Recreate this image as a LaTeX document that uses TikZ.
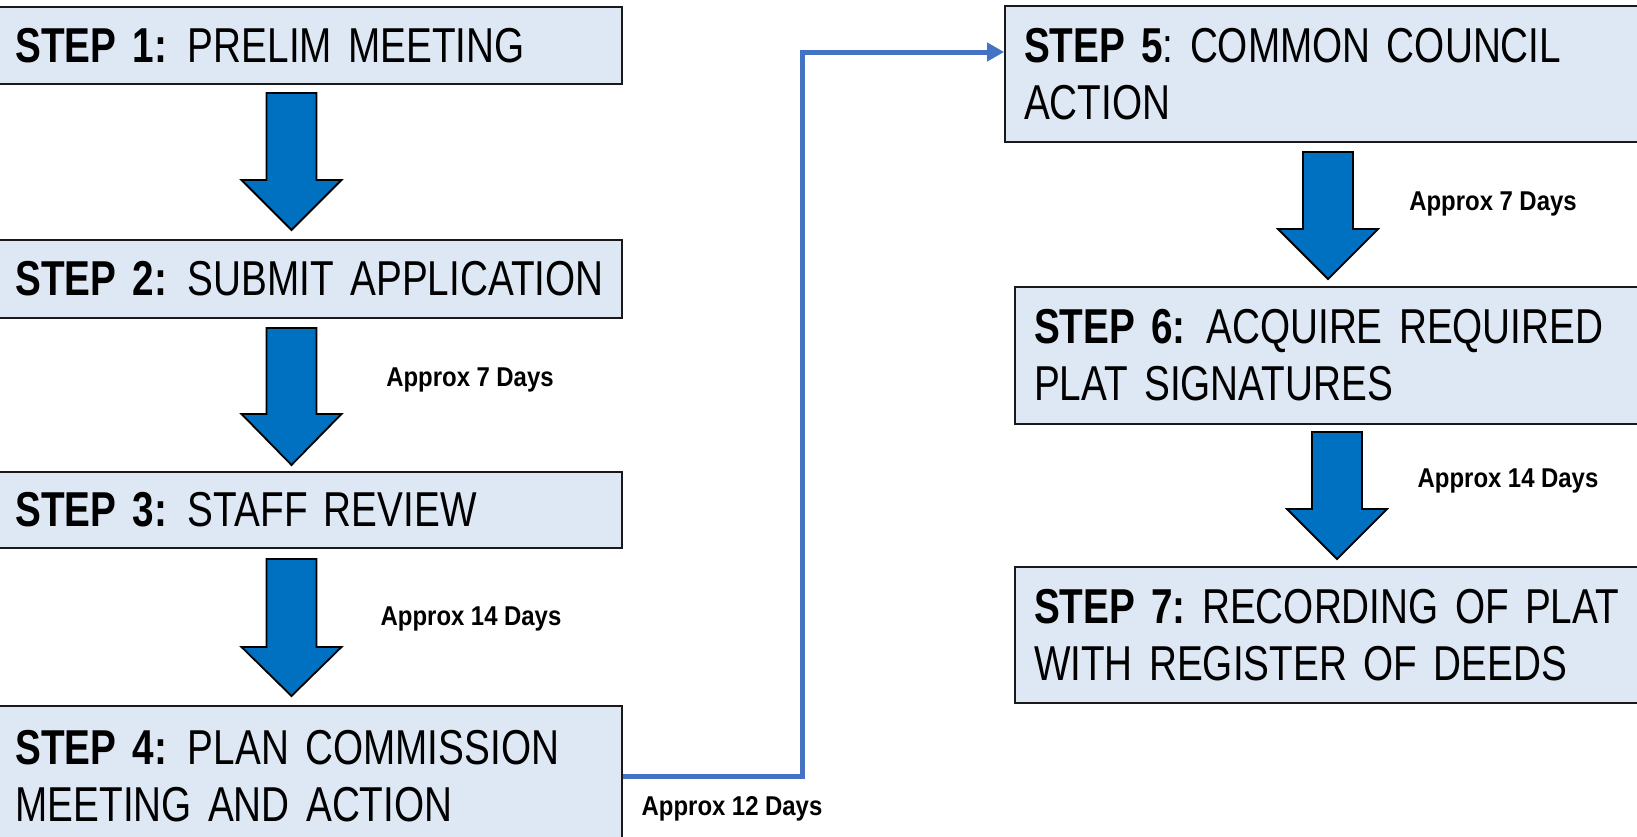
\documentclass[tikz,border=0pt]{standalone}
\usepackage{fontspec}
\setmainfont{Liberation Sans}[FakeStretch=0.79]
\newfontfamily\lblfont{Liberation Sans}[FakeStretch=0.88]
\usetikzlibrary{arrows.meta}
\definecolor{boxfill}{HTML}{DEE8F4}
\definecolor{arrfill}{HTML}{0070C0}
\definecolor{connblue}{HTML}{4472C4}
\newcommand\gapp{\hspace{0.42em}}
\newcommand\boxfont{\fontsize{24.5}{28.5}\selectfont\frenchspacing\spaceskip=0.2em\relax}
\newcommand\daysfont{\lblfont\bfseries\fontsize{13.6}{16}\selectfont\spaceskip=0.24em\relax}
\tikzset{
  stepbox/.style={draw=black!90, line width=0.9pt, fill=boxfill, align=left,
    inner xsep=9.5pt, inner ysep=0pt, font=\boxfont},
  barrow/.style={draw=black, line width=0.9pt, fill=arrfill, line join=miter},
  dayslbl/.style={font=\daysfont, inner sep=0pt},
  conn/.style={draw=connblue, line width=2.5pt, -{Triangle[length=8.5pt,width=9pt]}}
}
\newcommand\blockarr[4]{%
  \draw[barrow] ({#1-25},#2) -- ({#1+25},#2) -- ({#1+25},#3) -- ({#1+50},#3)
    -- (#1,#4) -- ({#1-50},#3) -- ({#1-25},#3) -- cycle;}
\begin{document}
\begin{tikzpicture}[x=0.5pt,y=-0.5pt]
\useasboundingbox (0,0) rectangle (1637,836);
% left column
\node[stepbox, text width=293.75pt, minimum height=38.5pt] (s1) at (309.25,45.5)
  {\mbox{\textbf{STEP 1:}\gapp PRELIM MEETING}};
\node[stepbox, text width=293.75pt, minimum height=39pt] (s2) at (309.25,279)
  {\mbox{\textbf{STEP 2:}\gapp SUBMIT APPLICATION}};
\node[stepbox, text width=293.75pt, minimum height=38pt] (s3) at (309.25,510)
  {\mbox{\textbf{STEP 3:}\gapp STAFF REVIEW}};
\node[stepbox, text width=293.75pt, minimum height=70pt] (s4) at (309.25,776)
  {\mbox{\textbf{STEP 4:}\gapp PLAN COMMISSION}\\\mbox{MEETING AND ACTION}};
% right column
\node[stepbox, text width=328.5pt, minimum height=68pt] (s5) at (1352.5,74)
  {\mbox{\textbf{STEP 5}: COMMON COUNCIL}\\\mbox{ACTION}};
\node[stepbox, text width=323.5pt, minimum height=68.5pt] (s6) at (1357.5,355.5)
  {\mbox{\textbf{STEP 6:}\gapp ACQUIRE REQUIRED}\\\mbox{PLAT SIGNATURES}};
\node[stepbox, text width=323.5pt, minimum height=68pt] (s7) at (1357.5,635)
  {\mbox{\textbf{STEP 7:} RECORDING OF PLAT}\\\mbox{WITH REGISTER OF DEEDS}};
% block arrows
\blockarr{291.5}{93}{180}{230}
\blockarr{291.5}{328}{414}{465}
\blockarr{291.5}{559}{647}{696}
\blockarr{1328}{152}{229}{279}
\blockarr{1337}{432}{509}{559}
% labels
\node[dayslbl] (d2) at (470,380) {Approx 7 Days};
\node[dayslbl] (d3) at (471,619) {Approx 14 Days};
\node[dayslbl] (d4) at (732,809) {Approx 12 Days};
\node[dayslbl] (d5) at (1493,204) {Approx 7 Days};
\node[dayslbl] (d6) at (1508,481) {Approx 14 Days};
% connector
\coordinate (c1) at (802,776);
\coordinate (c2) at (802,52);
\draw[conn] (s4.east) -- (c1) -- (c2) -- (s5.west |- c2);
\end{tikzpicture}
\end{document}
